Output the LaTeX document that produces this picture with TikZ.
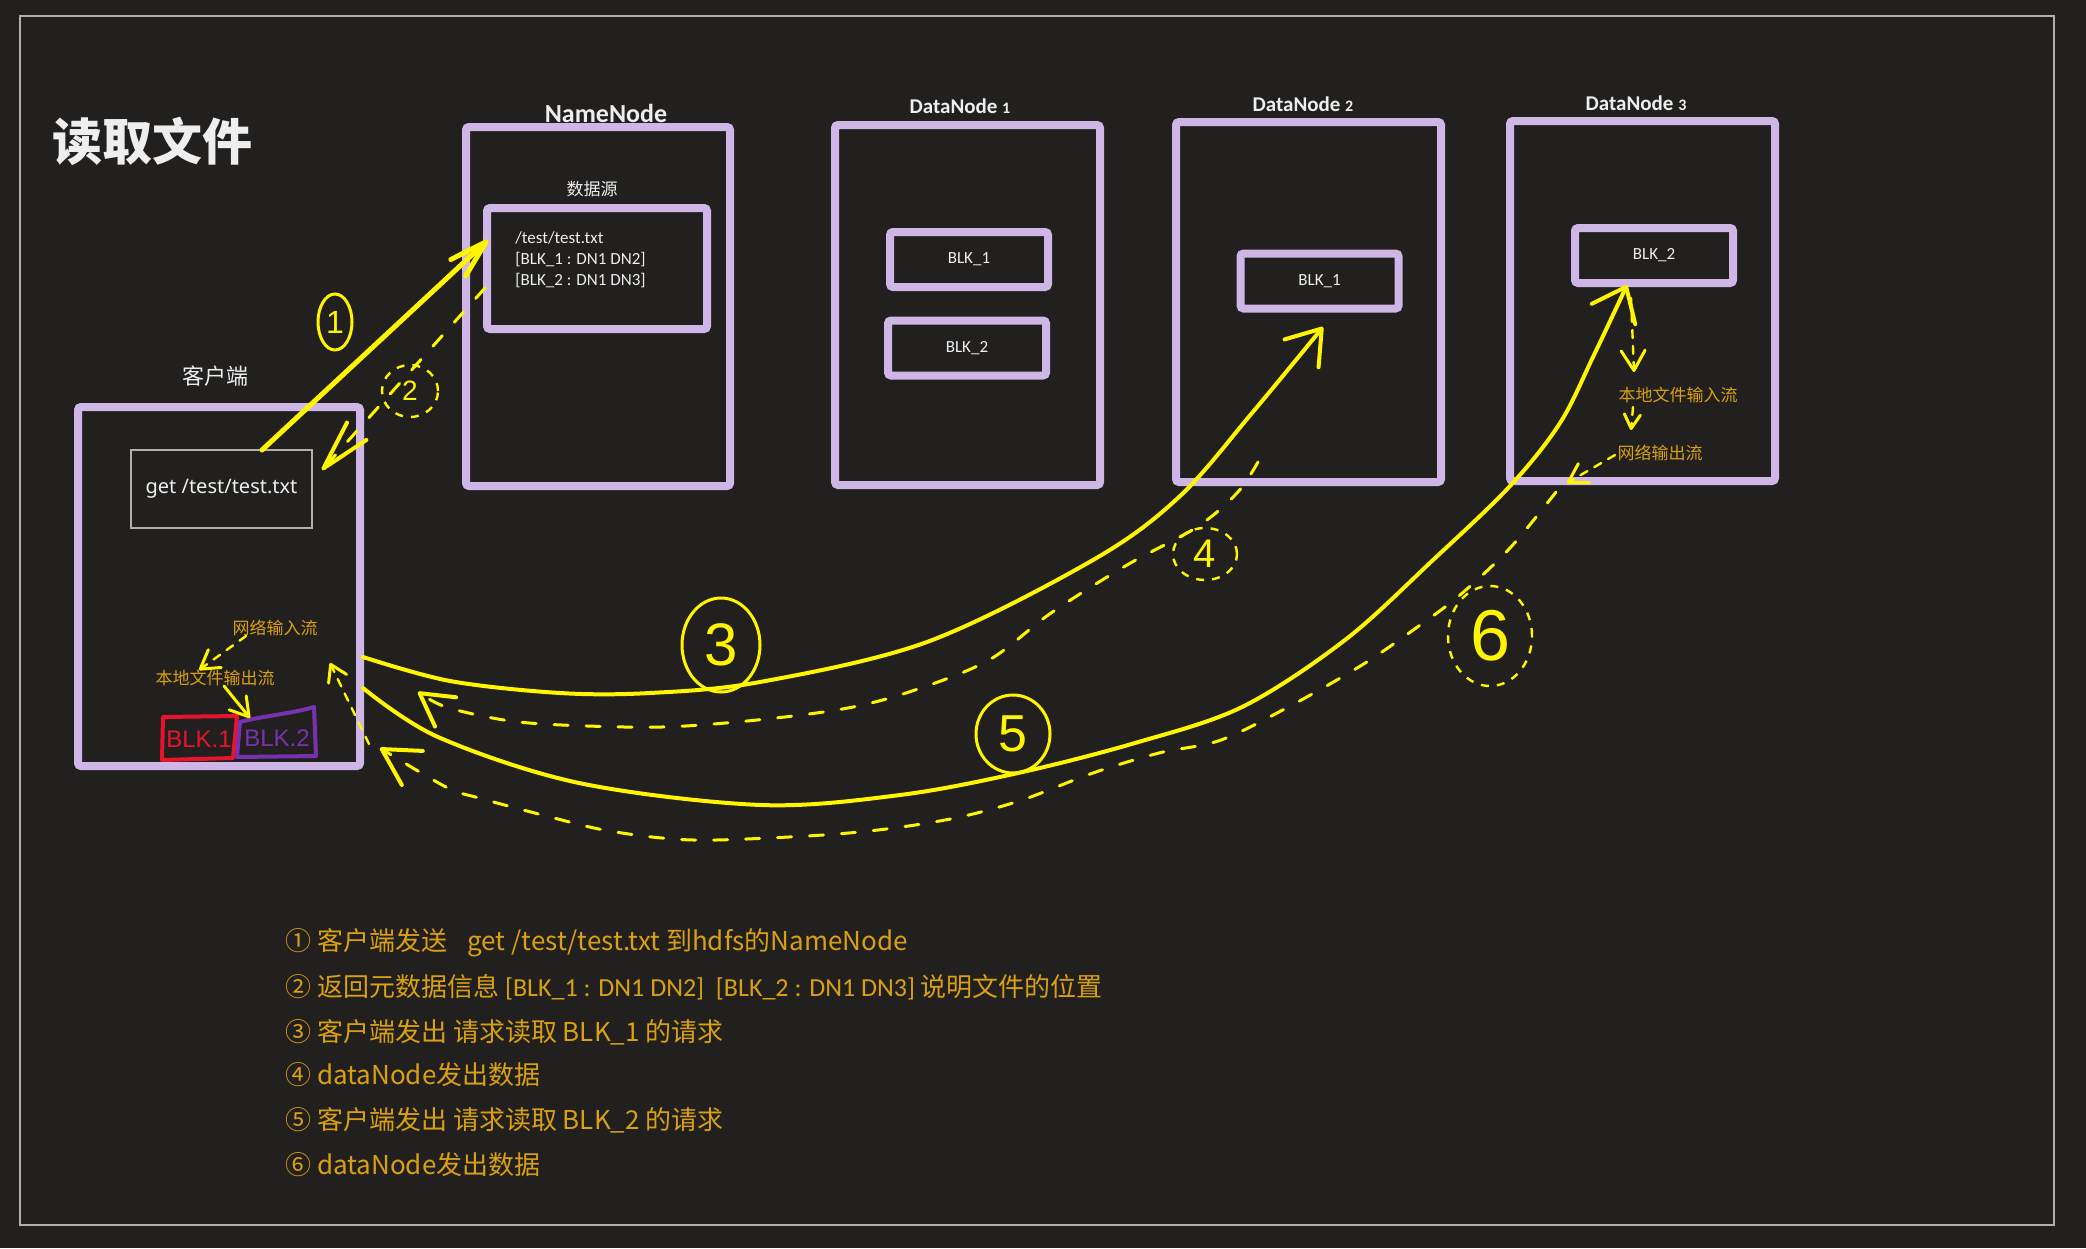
\documentclass[tikz,border=0pt]{standalone}
\usepackage{fontspec}
\setmainfont{Noto Sans CJK SC}
\newfontfamily\carl{Carlito}
\newfontfamily\notos{Noto Sans}
\newfontfamily\hand{Liberation Sans}
\usetikzlibrary{arrows.meta,shapes.geometric}
\definecolor{bg}{RGB}{33,32,31}
\definecolor{lav}{RGB}{206,182,230}
\definecolor{ylw}{RGB}{255,245,0}
\definecolor{org}{RGB}{218,160,20}
\definecolor{frm}{RGB}{175,175,175}
\definecolor{txtw}{RGB}{238,238,238}
\definecolor{hred}{RGB}{230,20,45}
\definecolor{hpur}{RGB}{120,50,175}
\begin{document}
\begin{tikzpicture}[x=0.5pt,y=-0.5pt,
  box/.style={draw=lav, line width=4pt, rounded corners=1.5pt, inner sep=0pt},
  blk/.style={box, minimum width=79pt, minimum height=27.5pt, font=\carl\fontsize{8.5}{10}\selectfont, text=txtw},
  bignode/.style={box, minimum width=132.5pt, minimum height=180pt},
  lbl/.style={text=txtw, inner sep=0pt},
  olbl/.style={text=org, font=\fontsize{8.5}{10}\selectfont, inner sep=0pt},
  leg/.style={text=org, anchor=west, font=\fontsize{13}{15}\selectfont, inner sep=0pt},
  pen/.style={draw=ylw, line width=2pt, line cap=round, line join=round},
  dpen/.style={pen, line width=1.5pt, dash pattern=on 7pt off 9pt},
  spen/.style={pen, line width=1.2pt, dash pattern=on 4pt off 4pt},
  num/.style={draw=ylw, ellipse, line width=1.5pt, text=ylw, inner sep=0pt},
  dnum/.style={num, line width=1.2pt, dash pattern=on 4pt off 4pt},
]
\useasboundingbox (0,0) rectangle (2086,1248);
\fill[bg] (0,0) rectangle (2086,1248);
\draw[frm, line width=1pt] (20,16) rectangle (2054,1225);

% title
\node[lbl, font=\bfseries\fontsize{25}{30}\selectfont] (title) at (152,141) {读取文件};

% client
\node[box, minimum width=141pt, minimum height=179.5pt] (client) at (219,586.5) {};
\node[lbl, font=\fontsize{11}{13}\selectfont] (clientl) at (215,376) {客户端};
\node[draw=frm, line width=1pt, minimum width=90.5pt, minimum height=39pt, text=txtw, font=\notos\fontsize{10}{12}\selectfont] (get) at (221.5,489) {\raisebox{-1pt}{get /test/test.txt}};
\node[olbl] (nin) at (275,628) {网络输入流};
\node[olbl] (lout) at (215,678) {本地文件输出流};

% NameNode
\node[box, minimum width=132pt, minimum height=179.5pt] (nn) at (598,306.5) {};
\node[lbl, font=\carl\bfseries\fontsize{13}{15}\selectfont] (nnl) at (606,113) {NameNode};
\node[lbl, font=\fontsize{8.5}{10}\selectfont] (srcl) at (592,189) {数据源};
\node[box, minimum width=110pt, minimum height=60.5pt] (src) at (597,268.5) {};
\node[lbl, anchor=west, align=left, font=\carl\fontsize{8.5}{10.5}\selectfont] (meta) at (515,260) {/test/test.txt\\{[}BLK\_1 : DN1 DN2{]}\\{[}BLK\_2 : DN1 DN3{]}};

% DataNodes
\node[bignode] (dn1) at (967.5,305) {};
\node[bignode] (dn2) at (1308.5,302) {};
\node[bignode] (dn3) at (1642.5,301) {};
\node[lbl, font=\carl\bfseries\fontsize{10.5}{12}\selectfont] (dn1l) at (960,106) {DataNode {\fontsize{8}{10}\selectfont 1}};
\node[lbl, font=\carl\bfseries\fontsize{10.5}{12}\selectfont] (dn2l) at (1303,104) {DataNode {\fontsize{8}{10}\selectfont 2}};
\node[lbl, font=\carl\bfseries\fontsize{10.5}{12}\selectfont] (dn3l) at (1636,103) {DataNode {\fontsize{8}{10}\selectfont 3}};
\node[blk] (b11) at (969,259.5) {BLK\_1};
\node[blk] (b12) at (967,348) {BLK\_2};
\node[blk] (b21) at (1319.5,281) {BLK\_1};
\node[blk] (b32) at (1654,255.5) {BLK\_2};
\node[olbl] (lin) at (1678,395) {本地文件输入流};
\node[olbl] (nout) at (1660,453) {网络输出流};

% hand-drawn blocks in client
\draw[hred, line width=2pt, line join=round] (163,717) -- (237,716) -- (233,758) -- (162,760) -- cycle;
\node[text=hred, inner sep=0pt, font=\hand\fontsize{12}{12}\selectfont] (hb1) at (199,739) {BLK.1};
\draw[hpur, line width=2pt, line join=round] (240,722) .. controls (262,716) and (290,714) .. (314,707) -- (316,756) -- (237,757) -- cycle;
\node[text=hpur, inner sep=0pt, font=\hand\fontsize{12}{12}\selectfont] (hb2) at (277,738) {BLK.2};

% number circles
\node[num, minimum width=17pt, minimum height=28pt, font=\hand\fontsize{16}{16}\selectfont] (n1) at (335,322) {1};
\node[dnum, minimum width=28pt, minimum height=26pt, font=\hand\fontsize{14}{14}\selectfont] (n2) at (410,391) {2};
\node[num, minimum width=39pt, minimum height=47pt, font=\hand\fontsize{30}{30}\selectfont] (n3) at (721,645) {3};
\node[dnum, minimum width=32pt, minimum height=26pt, font=\hand\fontsize{20}{20}\selectfont] (n4) at (1205,554) {4};
\node[num, minimum width=37pt, minimum height=39pt, font=\hand\fontsize{26}{26}\selectfont] (n5) at (1013,734) {5};
\node[dnum, minimum width=42pt, minimum height=50pt, font=\hand\fontsize{36}{36}\selectfont] (n6) at (1490,636) {6};

% connectors
\coordinate (a1s) at (262,450);
\coordinate (a1e) at (488,240);
\draw[pen, line width=2.5pt, -{Straight Barb[length=19pt,width=11pt,round]}] (a1s) -- (a1e);
\coordinate (a2s) at (485,288);
\coordinate (a2e) at (322,470);
\draw[dpen, -{Straight Barb[length=25pt,width=13pt,round,line width=2pt]}] (a2s) -- (a2e);

\coordinate (s3) at (363,657);
\coordinate (e3) at (1323,327);
\draw[pen, -{Straight Barb[length=16pt,width=22pt,round]}] plot[smooth, tension=0.55] coordinates {(s3) (450,681) (560,693) (650,693) (760,682) (927,642) (1093,560) (1179,497) (1252,413) (e3)};

\coordinate (s5) at (363,688);
\coordinate (e5) at (1627,285);
\draw[pen, -{Straight Barb[length=15pt,width=24pt,round]}] plot[smooth, tension=0.55] coordinates {(s5) (438,737) (579,783) (761,805) (900,795) (1018,773) (1135,743) (1242,707) (1345,640) (1433,560) (1510,486) (1560,423) (1593,357) (e5)};

\coordinate (s4) at (1258,462);
\coordinate (e4) at (418,692);
\draw[dpen, -{Straight Barb[length=16pt,width=18pt,round,line width=2pt]}] plot[smooth, tension=0.55] coordinates {(s4) (1237,493) (1197,527) (1127,565) (1051,613) (989,660) (915,690) (848,708) (757,720) (662,727) (562,725) (504,720) (446,707) (e4)};

\coordinate (s6) at (1556,492);
\coordinate (e6) at (380,748);
\draw[dpen, -{Straight Barb[length=18pt,width=20pt,round,line width=2pt]}] plot[smooth, tension=0.55] coordinates {(s6) (1510,548) (1460,595) (1416,628) (1362,665) (1292,705) (1221,740) (1159,753) (1093,773) (1022,800) (960,817) (894,828) (823,835) (716,840) (662,838) (604,830) (554,818) (479,798) (446,787) (e6)};

% small internal arrows
\coordinate (i1s) at (246,636);
\coordinate (i1e) at (199,670);
\draw[spen, -{Straight Barb[length=9pt,width=11pt,round,line width=1.5pt]}] (i1s) -- (i1e);
\coordinate (i2s) at (224,686);
\coordinate (i2e) at (250,718);
\draw[pen, line width=1.5pt, -{Straight Barb[length=9pt,width=11pt,round]}] (i2s) -- (i2e);
\coordinate (i3s) at (1631,298);
\coordinate (i3e) at (1634,372);
\draw[spen, -{Straight Barb[length=10pt,width=12pt,round,line width=1.5pt]}] (i3s) -- (i3e);
\coordinate (i4s) at (1633,407);
\coordinate (i4e) at (1631,430);
\draw[spen, -{Straight Barb[length=7pt,width=8pt,round,line width=1.5pt]}] (i4s) -- (i4e);
\coordinate (i5s) at (1615,455);
\coordinate (i5e) at (1567,483);
\draw[spen, -{Straight Barb[length=9pt,width=11pt,round,line width=1.5pt]}] (i5s) -- (i5e);
\coordinate (i6s) at (369,744);
\coordinate (i6e) at (330,663);
\draw[spen, -{Straight Barb[length=8pt,width=10pt,round,line width=1.5pt]}] (i6s) -- (i6e);

% legend
\node[leg] (leg1) at (285,943) {① 客户端发送\hspace{10pt}get /test/test.txt 到hdfs的NameNode};
\node[leg] (leg2) at (285,987) {② 返回元数据信息 {\carl[BLK\_1 : DN1 DN2]\ \ [BLK\_2 : DN1 DN3]} 说明文件的位置};
\node[leg] (leg3) at (285,1032) {③ 客户端发出 请求读取 BLK\_1 的请求};
\node[leg] (leg4) at (285,1075) {④ dataNode发出数据};
\node[leg] (leg5) at (285,1120) {⑤ 客户端发出 请求读取 BLK\_2 的请求};
\node[leg] (leg6) at (285,1165) {⑥ dataNode发出数据};
\end{tikzpicture}
\end{document}
